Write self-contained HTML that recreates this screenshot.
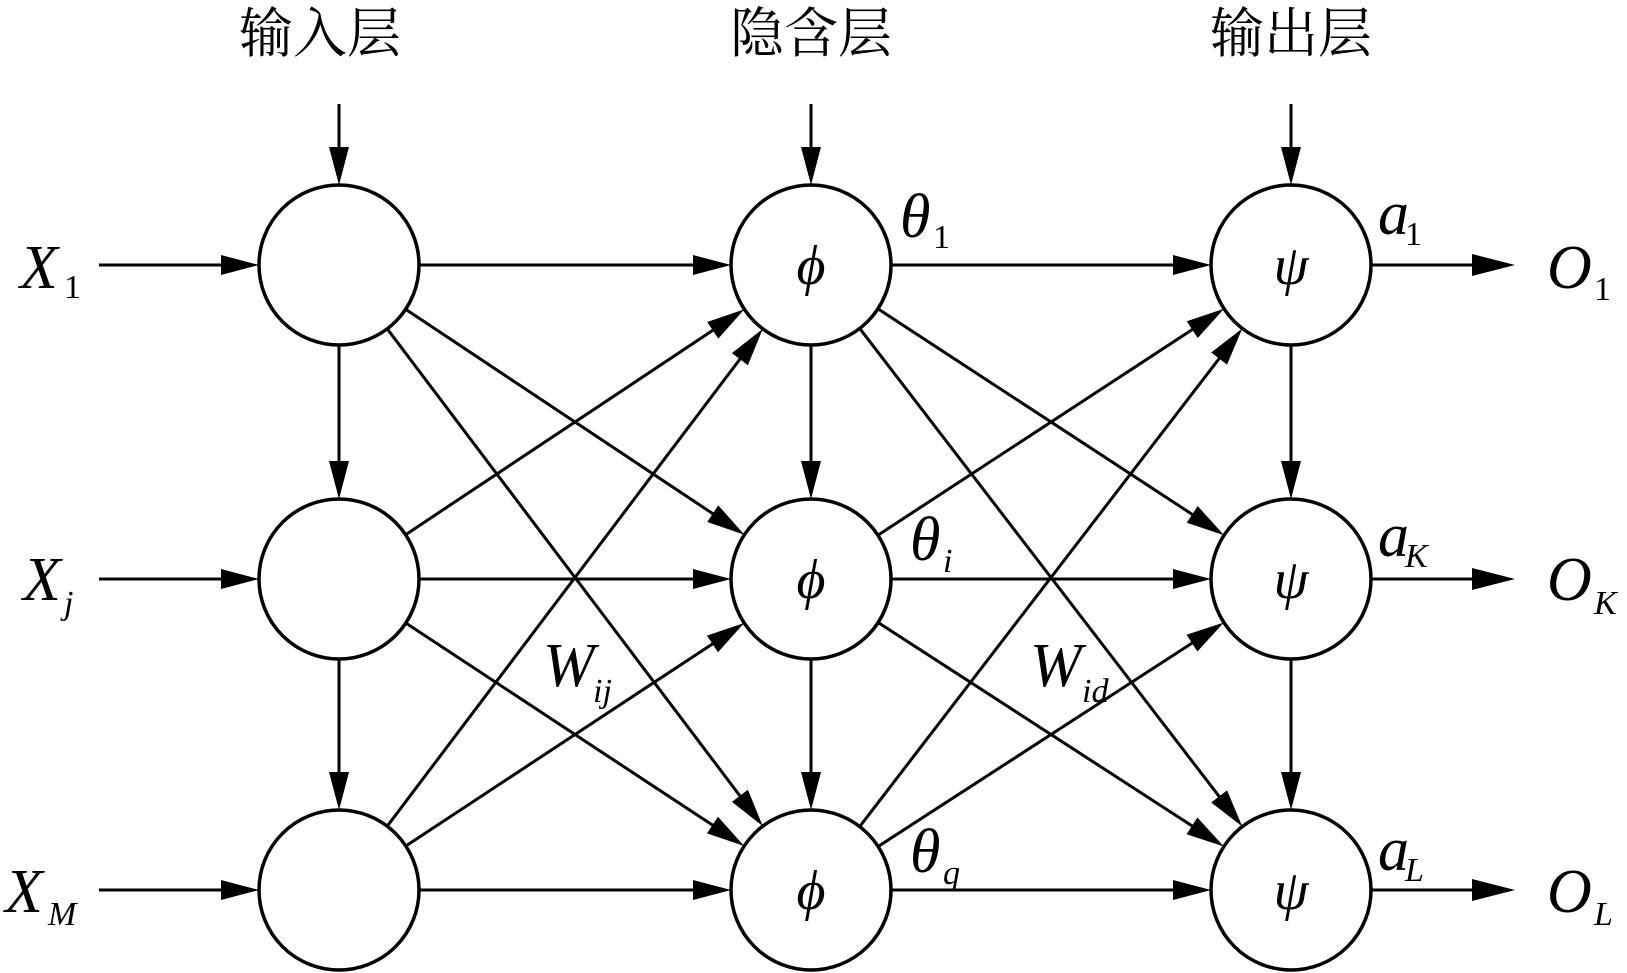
<!DOCTYPE html>
<html><head><meta charset="utf-8"><style>
html,body{margin:0;padding:0;background:#fff;}
svg{display:block;}
text{font-family:"Liberation Serif","Noto Serif CJK SC",serif;fill:#000;}
.i{font-style:italic;}
</style></head><body>
<svg id="s" width="1627" height="973" viewBox="0 0 1627 973" xmlns="http://www.w3.org/2000/svg">
<g font-size="54" text-anchor="middle" style="font-family:'Noto Serif CJK SC','Liberation Serif',serif">
<text x="320" y="52">输入层</text>
<text x="811" y="52">隐含层</text>
<text x="1291" y="52">输出层</text>
</g>
<g id="edges" stroke="#000" stroke-width="3" fill="none"></g>
<g id="heads" fill="#000"></g>
<g id="nodes" stroke="#000" stroke-width="3.5" fill="none"></g>
<g class="i" font-size="62">
<text x="20" y="288">X</text><text x="64" y="298" font-size="34" style="font-style:normal">1</text>
<text x="23" y="600">X</text><text x="64" y="614" font-size="34">j</text>
<text x="5" y="912">X</text><text x="48" y="925" font-size="34">M</text>
<text x="1547" y="288">O</text><text x="1594" y="300" font-size="34" style="font-style:normal">1</text>
<text x="1547" y="600">O</text><text x="1594" y="614" font-size="34">K</text>
<text x="1547" y="912">O</text><text x="1594" y="925" font-size="34">L</text>
<text x="900" y="237">θ</text><text x="933" y="248" font-size="34" style="font-style:normal">1</text>
<text x="910" y="560">θ</text><text x="943" y="572" font-size="34">i</text>
<text x="910" y="872">θ</text><text x="943" y="884" font-size="34">q</text>
<text x="1378" y="234">a</text><text x="1405" y="245" font-size="34" style="font-style:normal">1</text>
<text x="1378" y="556">a</text><text x="1405" y="567" font-size="34">K</text>
<text x="1378" y="870">a</text><text x="1405" y="881" font-size="34">L</text>
<text x="543" y="686">W</text><text x="593" y="702" font-size="34">ij</text>
<text x="1030" y="686">W</text><text x="1082" y="702" font-size="34">id</text>
</g>
<g class="i" font-size="56" text-anchor="middle">
<text x="811" y="284">ϕ</text><text x="811" y="598">ϕ</text><text x="811" y="909">ϕ</text>
<text x="1291" y="284">ψ</text><text x="1291" y="598">ψ</text><text x="1291" y="909">ψ</text>
</g>
</svg>
<script>
var NS="http://www.w3.org/2000/svg";
var xs=[339,811,1291], ys=[265,579,890], R=80;
var E=document.getElementById('edges'),H=document.getElementById('heads'),N=document.getElementById('nodes');
function arrow(x1,y1,x2,y2,L,W){
 L=L||38;W=W||10;
 var dx=x2-x1,dy=y2-y1,d=Math.hypot(dx,dy),ux=dx/d,uy=dy/d;
 var bx=x2-ux*L,by=y2-uy*L;
 var l=document.createElementNS(NS,'line');
 l.setAttribute('x1',x1);l.setAttribute('y1',y1);l.setAttribute('x2',bx+ux*4);l.setAttribute('y2',by+uy*4);E.appendChild(l);
 var p=document.createElementNS(NS,'polygon');
 p.setAttribute('points',x2+','+y2+' '+(bx-uy*W)+','+(by+ux*W)+' '+(bx+uy*W)+','+(by-ux*W));H.appendChild(p);
}
function edge(c1,r1,c2,r2){
 var x1=xs[c1],y1=ys[r1],x2=xs[c2],y2=ys[r2];
 var dx=x2-x1,dy=y2-y1,d=Math.hypot(dx,dy),ux=dx/d,uy=dy/d;
 arrow(x1+ux*R,y1+uy*R,x2-ux*R,y2-uy*R);
}
for(var c=0;c<3;c++){
 arrow(xs[c],104,xs[c],ys[0]-R);
 edge(c,0,c,1);edge(c,1,c,2);
 for(var r=0;r<3;r++){
  var ci=document.createElementNS(NS,'circle');
  ci.setAttribute('cx',xs[c]);ci.setAttribute('cy',ys[r]);ci.setAttribute('r',R);ci.setAttribute('fill','#fff');N.appendChild(ci);
 }
}
for(var c=0;c<2;c++)for(var a=0;a<3;a++)for(var b=0;b<3;b++)edge(c,a,c+1,b);
for(var r=0;r<3;r++){arrow(99,ys[r],xs[0]-R,ys[r]);arrow(xs[2]+R,ys[r],1515,ys[r],43,11);}
</script>
</body></html>
